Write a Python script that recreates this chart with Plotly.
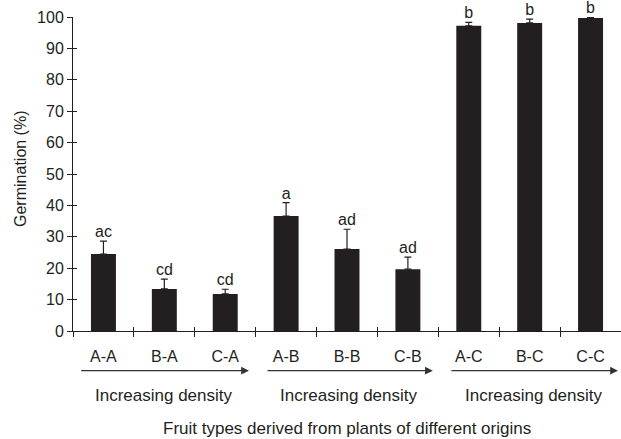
import plotly.graph_objects as go

categories = ["A-A", "B-A", "C-A", "A-B", "B-B", "C-B", "A-C", "B-C", "C-C"]
germination = [24.5, 13.4, 11.8, 36.6, 26.1, 19.7, 97.2, 98.1, 99.7]
err_upper = [4.1, 3.1, 1.5, 4.3, 6.3, 3.8, 1.1, 1.2, 0.3]
letters = ["ac", "cd", "cd", "a", "ad", "ad", "b", "b", "b"]
group_label = "Increasing density"
x_title = "Fruit types derived from plants of different origins"
y_title = "Germination (%)"
# arrow spans in category-index units (tail, head)
arrow_spans = [(-0.39, 2.39), (2.67, 5.41), (5.69, 8.45)]

FONT = "Liberation Sans, Arial, sans-serif"
DARK = "#231f20"
FS = 16
FS_NOTE = 17

fig = go.Figure()
fig.add_trace(go.Bar(
    x=list(range(len(categories))), y=germination,
    marker=dict(color=DARK, line=dict(width=0)),
    width=0.41,
    error_y=dict(type="data", symmetric=False, array=err_upper,
                 arrayminus=[0] * len(err_upper), color=DARK,
                 thickness=1.2, width=3.5),
    showlegend=False, hoverinfo="skip",
))
fig.add_trace(go.Scatter(
    x=list(range(len(categories))),
    y=[g + e for g, e in zip(germination, err_upper)],
    mode="text", text=letters, textposition="top center",
    textfont=dict(family=FONT, size=FS, color=DARK),
    cliponaxis=False,
    showlegend=False, hoverinfo="skip",
))

for tail, head in arrow_spans:
    fig.add_annotation(
        x=head, y=-0.1264, xref="x", yref="paper",
        ax=tail, ay=0, axref="x", ayref="pixel",
        showarrow=True, arrowhead=2, arrowsize=1.2, arrowwidth=1.3,
        arrowcolor="#333333", text="",
    )
    fig.add_annotation(
        x=(tail + head) / 2, y=-0.204, xref="x", yref="paper",
        text=group_label, showarrow=False, yanchor="middle",
        font=dict(family=FONT, size=FS_NOTE, color=DARK),
    )

fig.add_annotation(
    x=0.5, y=-0.312, xref="paper", yref="paper", text=x_title,
    showarrow=False, yanchor="middle", xanchor="center",
    font=dict(family=FONT, size=FS_NOTE, color=DARK),
)
fig.add_annotation(
    x=-0.0949, y=0.516, xref="paper", yref="paper", text=y_title,
    showarrow=False, yanchor="middle", xanchor="center", textangle=-90,
    font=dict(family=FONT, size=FS, color=DARK),
)

fig.update_layout(
    width=621, height=439,
    margin=dict(l=73, r=0, t=17, b=108, autoexpand=False),
    paper_bgcolor="white", plot_bgcolor="white",
    font=dict(family=FONT, size=FS, color=DARK),
    xaxis=dict(
        tickmode="array", tickvals=list(range(len(categories))), ticktext=categories,
        range=[-0.5, 8.5], showgrid=False, zeroline=False,
        showline=True, linecolor=DARK, linewidth=1,
        ticks="", tickfont=dict(family=FONT, size=FS, color=DARK),
        ticklabelstandoff=11, automargin=False,
    ),
    xaxis2=dict(
        overlaying="x", range=[-0.5, 8.5], tickmode="array",
        tickvals=[i - 0.5 for i in range(len(categories) + 1)],
        showticklabels=False, showgrid=False, zeroline=False,
        ticks="outside", ticklen=5, tickcolor=DARK, tickwidth=1,
        anchor="y", side="bottom", automargin=False,
    ),
    xaxis3=dict(
        overlaying="x", range=[-0.5, 8.5], tickmode="array",
        tickvals=[i - 0.5 for i in range(len(categories) + 1)],
        showticklabels=False, showgrid=False, zeroline=False,
        ticks="inside", ticklen=4, tickcolor=DARK, tickwidth=1,
        anchor="y", side="bottom", automargin=False,
    ),
    yaxis=dict(
        range=[0, 100], dtick=10, showgrid=False, zeroline=False,
        showline=True, linecolor=DARK, linewidth=1,
        ticks="outside", ticklen=5, tickcolor=DARK, tickwidth=1,
        tickfont=dict(family=FONT, size=FS, color=DARK),
        automargin=False,
    ),
    yaxis2=dict(
        overlaying="y", range=[0, 100], dtick=10, showticklabels=False,
        showgrid=False, zeroline=False, ticks="inside", ticklen=4,
        tickcolor=DARK, tickwidth=1, anchor="x", automargin=False,
    ),
)
# empty traces so the overlay tick axes render
fig.add_trace(go.Scatter(x=[None], y=[None], xaxis="x2", yaxis="y", showlegend=False, hoverinfo="skip"))
fig.add_trace(go.Scatter(x=[None], y=[None], xaxis="x3", yaxis="y", showlegend=False, hoverinfo="skip"))
fig.add_trace(go.Scatter(x=[None], y=[None], xaxis="x", yaxis="y2", showlegend=False, hoverinfo="skip"))

fig.write_html(
    "out.html",
    config={"displayModeBar": False},
    post_script="document.body.style.margin='0';document.body.style.overflow='hidden';",
)
